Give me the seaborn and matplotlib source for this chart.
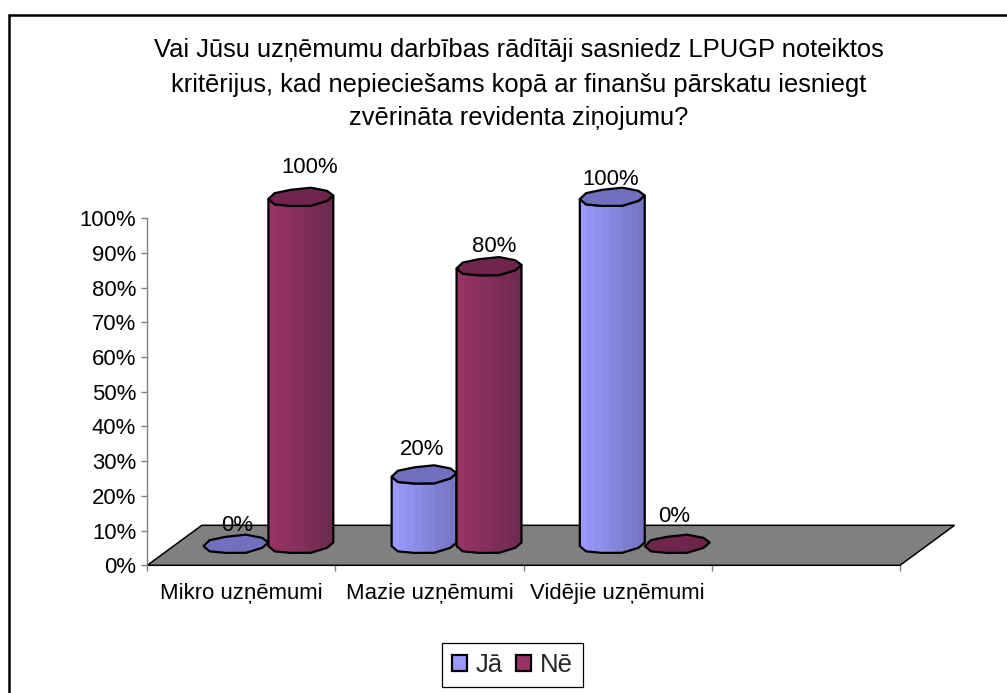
import numpy as np
import pandas as pd
import matplotlib
matplotlib.use("Agg")
import matplotlib.pyplot as plt
import seaborn as sns
from matplotlib.colors import to_rgb
from matplotlib.lines import Line2D
from matplotlib.patches import Patch, Polygon

# ---------- data ----------
categories = ["Mikro uzņēmumi", "Mazie uzņēmumi", "Vidējie uzņēmumi"]
series_names = ["Jā", "Nē"]
values_ja = [0, 20, 100]
values_ne = [100, 80, 0]
y_ticks = list(range(0, 101, 10))
title_lines = ["Vai Jūsu uzņēmumu darbības rādītāji sasniedz LPUGP noteiktos",
               "kritērijus, kad nepieciešams kopā ar finanšu pārskatu iesniegt",
               "zvērināta revidenta ziņojumu?"]

# ---------- layout / style ----------
W, H = 1007, 693
PX_L, PX_R, PX_T, PX_B = 147.3, 900.0, 218.3, 565.3
DEPTH_X, DEPTH_Y = 54.5, 40.0
SHIFT_X, SHIFT_Y = 27.0, 21.0
ELL_B_PX, ELL_TILT_PX = 9.0, 1.8
FONT = "Liberation Sans"
LABEL_SHIFT = {  # (series, category): label offset from cap centre in px
    (0, 0): (1, 19), (0, 1): (-2, 25), (0, 2): (-2, 18),
    (1, 0): (9, 30), (1, 1): (5, 20), (1, 2): (-3, 28),
}
COLORS = {"Jā": ("#9999FF", "#7676C2", "#7070BE"),
          "Nē": ("#993366", "#6F2A50", "#70254C")}
FLOOR = "#808080"
TEXT_PT = 15.9

sns.set_style("white")
plt.rcParams["font.family"] = [FONT, "DejaVu Sans"]

df = pd.DataFrame({
    "kategorija": categories * 2,
    "sērija": [series_names[0]] * 3 + [series_names[1]] * 3,
    "vērtība": values_ja + values_ne,
})

fig = plt.figure(figsize=(W / 100, H / 100), dpi=100, facecolor="white")


def rect(dx=0.0, dy=0.0):
    return [(PX_L + dx) / W, 1 - (PX_B - dy) / H, (PX_R - PX_L) / W, (PX_B - PX_T) / H]


# outer frame: only top and left edges are in view
fig.add_artist(Line2D([8.5 / W, 8.5 / W], [0, 1 - 14.5 / H], color="black", lw=1.8))
fig.add_artist(Line2D([8.5 / W, 1], [1 - 14.5 / H, 1 - 14.5 / H], color="black", lw=1.8))

# ---------- base axes: scales, ticks, floor ----------
ax = fig.add_axes(rect())
ax.patch.set_alpha(0)
ax.set_xlim(-0.5, 3.5)
ax.set_ylim(0, 100)
ax.set_yticks(y_ticks)
ax.set_yticklabels([f"{t}%" for t in y_ticks], fontsize=TEXT_PT, color="black")
ax.set_xticks(np.arange(-0.5, 4.0, 1.0))
ax.set_xticklabels([])
ax.set_xticks(range(len(categories)), categories, minor=True, fontsize=TEXT_PT, color="black")
ax.tick_params(axis="both", which="major", length=4.5, width=1, color="#808080",
               direction="out", left=True, bottom=True, pad=3.5)
ax.tick_params(axis="x", which="minor", length=0, pad=13)
for s in ("top", "right"):
    ax.spines[s].set_visible(False)
ax.spines["left"].set_color("#808080")
ax.spines["left"].set_linewidth(1)
ax.spines["bottom"].set_visible(False)

ux = 4.0 / (PX_R - PX_L)      # x data units per px
uy = 100.0 / (PX_B - PX_T)    # y data units per px
ax.add_patch(Polygon([(-0.5, 0), (3.5, 0),
                      (3.5 + DEPTH_X * ux, DEPTH_Y * uy), (-0.5 + DEPTH_X * ux, DEPTH_Y * uy)],
                     closed=True, facecolor=FLOOR, edgecolor="black", lw=1.1,
                     clip_on=False, zorder=1))

# ---------- bars: seaborn on an axes shifted by the chart depth ----------
bx = fig.add_axes(rect(SHIFT_X, SHIFT_Y))
bx.patch.set_alpha(0)
sns.barplot(data=df, x="kategorija", y="vērtība", hue="sērija",
            order=categories, hue_order=series_names,
            palette={k: v[0] for k, v in COLORS.items()},
            width=0.69, gap=0, legend=False, ax=bx, linewidth=0, saturation=1)
bx.set_xlim(-0.5, 3.5)
bx.set_ylim(0, 100)
bx.axis("off")


def half_ring(c, a, y0, t0, t1, n):
    t = np.linspace(t0, t1, n)
    # slightly irregular, blocky outline like the low-poly cylinder of the reference
    wob = 1 + 0.07 * np.cos(5 * t + 0.6)
    return np.c_[c + a * np.cos(t),
                 y0 + ELL_B_PX * uy * np.sin(t) * wob + ELL_TILT_PX * uy * np.cos(t)]


bars = []
ns = len(categories)
for i, p in enumerate(bx.patches[:2 * ns]):
    bars.append((p, i // ns, i % ns))
bars.sort(key=lambda b: b[0].get_x())

z = 3
for p, s_idx, c_idx in bars:
    name = series_names[s_idx]
    light, dark, cap = COLORS[name]
    x0, w, h = p.get_x(), p.get_width(), p.get_height()
    c, a = x0 + w / 2, w / 2
    p.set_zorder(z)
    if h > 0:
        front = half_ring(c, a, h, np.pi, 2 * np.pi, 6)
        back = half_ring(c, a, 0, 2 * np.pi, np.pi, 6)
        body = Polygon(np.vstack([front, back]), closed=True, facecolor="none",
                       edgecolor="black", lw=1.6, joinstyle="round", zorder=z + 2,
                       clip_on=False)
        bx.add_patch(body)
        steps = np.linspace(0, 1, 9)[None, :, None]
        grad = np.array(to_rgb(light))[None, None, :] * (1 - steps) + \
            np.array(to_rgb(dark))[None, None, :] * steps
        im = bx.imshow(grad, extent=(x0, x0 + w, -2 * ELL_B_PX * uy, h),
                       aspect="auto", interpolation="nearest", zorder=z + 1, origin="lower")
        im.set_clip_path(body)
        im.set_clip_box(fig.bbox)
    ring = np.vstack([half_ring(c, a, h, 0, np.pi, 6),
                      half_ring(c, a, h, np.pi, 2 * np.pi, 6)[1:-1]])
    bx.add_patch(Polygon(ring, closed=True, facecolor=cap, edgecolor="black", lw=1.6,
                         joinstyle="round", zorder=z + 3, clip_on=False))
    dx, dy = LABEL_SHIFT[(s_idx, c_idx)]
    bx.annotate(f"{h:.0f}%", xy=(c, h), xytext=(dx * 0.72, dy * 0.72),
                textcoords="offset points", ha="center", va="center",
                fontsize=TEXT_PT, color="black", zorder=50, annotation_clip=False)
    z += 5
bx.set_xlim(-0.5, 3.5)
bx.set_ylim(0, 100)

# ---------- title ----------
for line, y_px in zip(title_lines, (50, 85, 118)):
    fig.text(519 / W, 1 - y_px / H, line, ha="center", va="center", fontsize=18.4, color="black")

# ---------- legend ----------
handles = [Patch(facecolor=COLORS[n][0], edgecolor="black", lw=1.6, label=n) for n in series_names]
leg = fig.legend(handles=handles, ncol=2, loc="center",
                 bbox_to_anchor=(512.5 / W, 1 - 665 / H), frameon=True, fancybox=False,
                 framealpha=1, edgecolor="black", fontsize=18.5, handlelength=0.58,
                 handleheight=0.58, handletextpad=0.35, columnspacing=0.5,
                 borderpad=0.4, borderaxespad=0)
leg.get_frame().set_linewidth(0.9)

fig.savefig("out.png", dpi=100, facecolor="white")
